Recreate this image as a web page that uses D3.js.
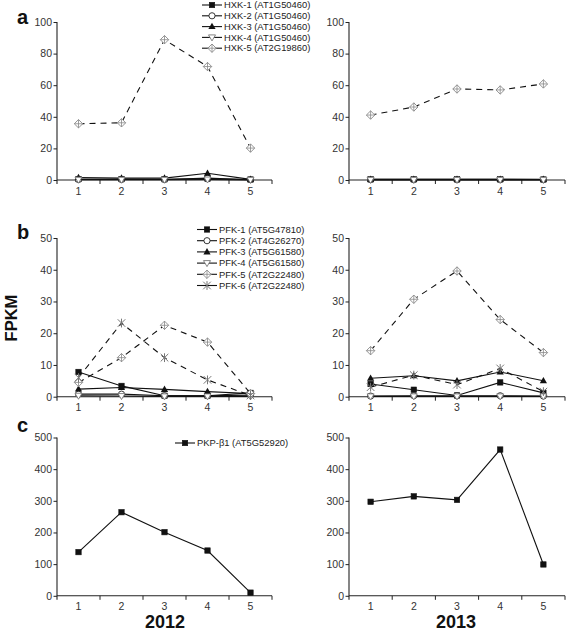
<!DOCTYPE html>
<html><head><meta charset="utf-8">
<script src="https://cdn.jsdelivr.net/npm/d3@7"></script>
<style>body{margin:0;background:#fff}svg{display:block;font-family:"Liberation Sans",Arial,sans-serif}</style>
</head><body><svg id="c" width="567" height="632"></svg>
<script>
// ---------- data ----------
const categories = ["1","2","3","4","5"];
const years = ["2012","2013"];

const hxkNames = ["HXK-1 (AT1G50460)","HXK-2 (AT1G50460)","HXK-3 (AT1G50460)","HXK-4 (AT1G50460)","HXK-5 (AT2G19860)"];
const hxk1_2012 = [0.6, 0.6, 0.5, 0.8, 0.3];
const hxk2_2012 = [0.3, 0.3, 0.3, 1.2, 0.2];
const hxk3_2012 = [1.6, 1.2, 1.2, 4.3, 0.4];
const hxk4_2012 = [0.2, 0.2, 0.2, 0.3, 0.1];
const hxk5_2012 = [35.6, 36.2, 88.8, 71.8, 20.2];
const hxk1_2013 = [0.4, 0.4, 0.4, 0.4, 0.3];
const hxk2_2013 = [0.2, 0.2, 0.2, 0.2, 0.2];
const hxk3_2013 = [0.5, 0.5, 0.5, 0.4, 0.4];
const hxk4_2013 = [0.1, 0.1, 0.1, 0.1, 0.1];
const hxk5_2013 = [41.1, 46.2, 57.6, 57.0, 60.8];

const pfkNames = ["PFK-1 (AT5G47810)","PFK-2 (AT4G26270)","PFK-3 (AT5G61580)","PFK-4 (AT5G61580)","PFK-5 (AT2G22480)","PFK-6 (AT2G22480)"];
const pfk1_2012 = [7.8, 3.4, 0.3, 0.3, 1.2];
const pfk2_2012 = [0.8, 0.8, 0.3, 0.3, 0.5];
const pfk3_2012 = [2.4, 2.9, 2.3, 1.6, 1.0];
const pfk4_2012 = [0.3, 0.2, 0.1, 0.1, 0.1];
const pfk5_2012 = [4.5, 12.3, 22.5, 17.2, 1.0];
const pfk6_2012 = [6.0, 23.2, 12.3, 5.3, 0.4];
const pfk1_2013 = [4.0, 2.2, 0.4, 4.5, 1.2];
const pfk2_2013 = [0.2, 0.3, 0.3, 0.3, 0.2];
const pfk3_2013 = [5.8, 6.6, 5.0, 7.8, 5.0];
const pfk4_2013 = [0.1, 0.1, 0.1, 0.1, 0.1];
const pfk5_2013 = [14.5, 30.7, 39.6, 24.3, 13.9];
const pfk6_2013 = [3.0, 6.8, 3.8, 8.9, 1.6];

const pkpNames = ["PKP-\u03b21 (AT5G52920)"];
const pkp_2012 = [138, 264, 201, 143, 10];
const pkp_2013 = [297, 314, 303, 462, 99];

const hxkTicks = [0,20,40,60,80,100];
const pfkTicks = [0,10,20,30,40,50];
const pkpTicks = [0,100,200,300,400,500];

// ---------- styles ----------
const hxkMarkers = ["square","circle","triangle","tridown","diamond"];
const hxkDash = [false,false,false,false,true];
const pfkMarkers = ["square","circle","triangle","tridown","diamond","star"];
const pfkDash = [false,false,false,false,true,true];

const svg = d3.select("#c");
const font = '"Liberation Sans",Arial,sans-serif';

function drawMarker(g, type, x, y) {
  const m = g.append("g").attr("transform", `translate(${x},${y})`);
  if (type === "square") {
    m.append("rect").attr("x",-2.7).attr("y",-2.7).attr("width",5.4).attr("height",5.4).attr("fill","#111").attr("stroke","#111").attr("stroke-width",0.6);
  } else if (type === "circle") {
    m.append("circle").attr("r",3.1).attr("fill","#fff").attr("stroke","#222").attr("stroke-width",0.9);
  } else if (type === "triangle") {
    m.append("path").attr("d","M0,-3.8L3.6,2.5L-3.6,2.5Z").attr("fill","#111");
  } else if (type === "tridown") {
    m.append("path").attr("d","M-3.5,-2.5L3.5,-2.5L0,3.5Z").attr("fill","#fff").attr("stroke","#777").attr("stroke-width",0.9);
  } else if (type === "diamond") {
    m.append("path").attr("d","M0,-4.2L4.2,0L0,4.2L-4.2,0Z").attr("fill","#fff").attr("stroke","#888").attr("stroke-width",0.9);
    m.append("path").attr("d","M0,-4.2V4.2M-4.2,0H4.2").attr("stroke","#888").attr("stroke-width",0.8);
  } else if (type === "star") {
    m.append("path").attr("d","M-3.8,-3.8L3.8,3.8M3.8,-3.8L-3.8,3.8M0,-4.4V4.4").attr("stroke","#777").attr("stroke-width",1).attr("fill","none");
  }
}

function panel(opts) {
  const {x0, x1, yTop, yBottom, max, ticks, series, markers, dashes} = opts;
  const g = svg.append("g");
  const x = d3.scaleBand().domain(categories).range([x0, x1]).padding(0);
  const y = d3.scaleLinear().domain([0, max]).range([yBottom, yTop]);

  // y axis
  const ya = d3.axisLeft(y).tickValues(ticks).tickSize(3.5).tickPadding(1.5).tickSizeOuter(0);
  const yg = g.append("g").attr("transform", `translate(${x0},0)`).call(ya);
  yg.select(".domain").attr("stroke","#222").attr("stroke-width",1.1).attr("d", `M0,${yTop}V${yBottom + 4}`);
  yg.selectAll(".tick line").attr("stroke","#222").attr("stroke-width",1);
  yg.selectAll(".tick text").attr("font-size",10.5).attr("font-family",font).attr("fill","#333");

  // x axis: ticks at band boundaries, labels at centres
  const xg = g.append("g").attr("transform", `translate(0,${yBottom})`);
  xg.append("path").attr("d", `M${x0},0H${x1}`).attr("stroke","#222").attr("stroke-width",1.1);
  categories.forEach((c) => {
    const bx = x(c) + x.bandwidth();
    xg.append("line").attr("x1", bx).attr("x2", bx).attr("y1", 0).attr("y2", 4).attr("stroke","#222").attr("stroke-width",1);
    xg.append("text").attr("x", x(c) + x.bandwidth()/2).attr("y", 14.5).attr("text-anchor","middle")
      .attr("font-size",10.5).attr("font-family",font).attr("fill","#333").text(c);
  });

  const line = d3.line().x((d,i) => x(categories[i]) + x.bandwidth()/2).y(d => y(d));
  series.forEach((s, k) => {
    g.append("path").datum(s).attr("d", line).attr("fill","none").attr("stroke","#111")
      .attr("stroke-width",1.1).attr("stroke-dasharray", dashes[k] ? "6,5" : null);
  });
  series.forEach((s, k) => {
    s.forEach((v, i) => drawMarker(g, markers[k], x(categories[i]) + x.bandwidth()/2, y(v)));
  });
}

function legend(names, markers, lx0, lx1, rows) {
  const g = svg.append("g");
  names.forEach((n, i) => {
    const yy = rows[i];
    g.append("line").attr("x1", lx0).attr("x2", lx1).attr("y1", yy).attr("y2", yy).attr("stroke","#111").attr("stroke-width",1.1);
    drawMarker(g, markers[i], (lx0 + lx1)/2, yy);
    g.append("text").attr("x", lx1 + 2).attr("y", yy).attr("dy","0.35em").attr("font-size",9.4)
      .attr("font-family",font).attr("fill","#222").text(n);
  });
}

const L = [57, 272], R = [349, 565];

// a
panel({x0:L[0], x1:L[1], yTop:22, yBottom:180, max:100, ticks:hxkTicks,
  series:[hxk1_2012,hxk2_2012,hxk3_2012,hxk4_2012,hxk5_2012], markers:hxkMarkers, dashes:hxkDash});
panel({x0:R[0], x1:R[1], yTop:22, yBottom:180, max:100, ticks:hxkTicks,
  series:[hxk1_2013,hxk2_2013,hxk3_2013,hxk4_2013,hxk5_2013], markers:hxkMarkers, dashes:hxkDash});
legend(hxkNames, hxkMarkers, 202, 222, [5, 15.8, 26.6, 37.4, 48.2]);

// b
panel({x0:L[0], x1:L[1], yTop:238, yBottom:396.7, max:50, ticks:pfkTicks,
  series:[pfk1_2012,pfk2_2012,pfk3_2012,pfk4_2012,pfk5_2012,pfk6_2012], markers:pfkMarkers, dashes:pfkDash});
panel({x0:R[0], x1:R[1], yTop:238, yBottom:396.7, max:50, ticks:pfkTicks,
  series:[pfk1_2013,pfk2_2013,pfk3_2013,pfk4_2013,pfk5_2013,pfk6_2013], markers:pfkMarkers, dashes:pfkDash});
legend(pfkNames, pfkMarkers, 197, 217, [229.5, 240.7, 251.9, 263.1, 274.3, 285.5]);

// c
panel({x0:L[0], x1:L[1], yTop:437.5, yBottom:595.8, max:500, ticks:pkpTicks,
  series:[pkp_2012], markers:["square"], dashes:[false]});
panel({x0:R[0], x1:R[1], yTop:437.5, yBottom:595.8, max:500, ticks:pkpTicks,
  series:[pkp_2013], markers:["square"], dashes:[false]});
legend(pkpNames, ["square"], 175, 195, [443]);

// labels
const lab = [["a",17,23.5],["b",17,238.5],["c",17,431.5]];
lab.forEach(([t,xx,yy]) => svg.append("text").attr("x",xx).attr("y",yy).attr("font-size",20)
  .attr("font-weight","bold").attr("font-family",font).attr("fill","#111").text(t));

svg.append("text").attr("transform","translate(16.5,318) rotate(-90)").attr("text-anchor","middle")
  .attr("font-size",16.5).attr("font-weight","bold").attr("font-family",font).attr("fill","#111").text("FPKM");

svg.append("text").attr("x",165).attr("y",628).attr("text-anchor","middle").attr("font-size",18)
  .attr("font-weight","bold").attr("font-family",font).attr("fill","#111").text(years[0]);
svg.append("text").attr("x",456).attr("y",628).attr("text-anchor","middle").attr("font-size",18)
  .attr("font-weight","bold").attr("font-family",font).attr("fill","#111").text(years[1]);
</script></body></html>
